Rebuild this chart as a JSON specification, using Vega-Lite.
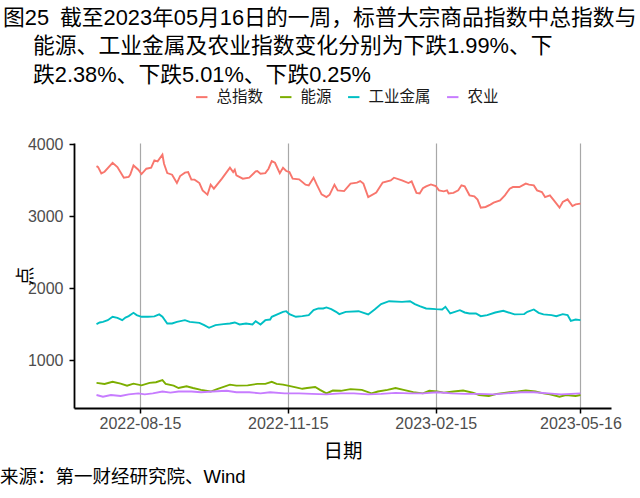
{
"$schema":"https://vega.github.io/schema/vega-lite/v6.json",
"autosize":{"type":"pad"},
"padding":{"left":0,"top":8,"right":0,"bottom":0},
"background":"white",
"title":{"text":"图25\u2002截至2023年05月16日的一周，标普大宗商品指数中总指数与","anchor":"start","frame":"bounds","dx":3,"fontSize":21.8,"font":"Liberation Sans, Noto Sans CJK SC","fontWeight":"normal","color":"#000000","offset":6},
"config":{"view":{"stroke":null},"font":"Liberation Sans, Noto Sans CJK SC"},
"vconcat":[{
"title":{"text":["能源、工业金属及农业指数变化分别为下跌1.99%、下","跌2.38%、下跌5.01%、下跌0.25%"],"anchor":"start","frame":"bounds","dx":33,"fontSize":21.8,"lineHeight":28.5,"font":"Liberation Sans, Noto Sans CJK SC","fontWeight":"normal","color":"#000000","offset":50},
"vconcat":[{
"width":537,"height":265,
"title":{"text":"来源：第一财经研究院、Wind","orient":"bottom","anchor":"start","frame":"group","dx":-74,"fontSize":18.5,"fontWeight":"normal","font":"Liberation Sans, Noto Sans CJK SC","color":"#000000","offset":7},
"data":{"values":[
{"d":"2022-07-19","s":"总指数","v":3699},{"d":"2022-07-20","s":"总指数","v":3685},{"d":"2022-07-22","s":"总指数","v":3597},{"d":"2022-07-24","s":"总指数","v":3620},{"d":"2022-07-29","s":"总指数","v":3745},{"d":"2022-08-01","s":"总指数","v":3685},{"d":"2022-08-05","s":"总指数","v":3537},{"d":"2022-08-08","s":"总指数","v":3547},{"d":"2022-08-09","s":"总指数","v":3580},{"d":"2022-08-11","s":"总指数","v":3708},{"d":"2022-08-14","s":"总指数","v":3648},{"d":"2022-08-16","s":"总指数","v":3588},{"d":"2022-08-19","s":"总指数","v":3662},{"d":"2022-08-22","s":"总指数","v":3676},{"d":"2022-08-24","s":"总指数","v":3778},{"d":"2022-08-26","s":"总指数","v":3764},{"d":"2022-08-29","s":"总指数","v":3857},{"d":"2022-08-30","s":"总指数","v":3732},{"d":"2022-09-01","s":"总指数","v":3601},{"d":"2022-09-04","s":"总指数","v":3579},{"d":"2022-09-07","s":"总指数","v":3463},{"d":"2022-09-09","s":"总指数","v":3560},{"d":"2022-09-12","s":"总指数","v":3607},{"d":"2022-09-14","s":"总指数","v":3615},{"d":"2022-09-16","s":"总指数","v":3510},{"d":"2022-09-18","s":"总指数","v":3510},{"d":"2022-09-21","s":"总指数","v":3463},{"d":"2022-09-23","s":"总指数","v":3361},{"d":"2022-09-26","s":"总指数","v":3301},{"d":"2022-09-28","s":"总指数","v":3440},{"d":"2022-09-30","s":"总指数","v":3385},{"d":"2022-10-05","s":"总指数","v":3524},{"d":"2022-10-10","s":"总指数","v":3676},{"d":"2022-10-12","s":"总指数","v":3615},{"d":"2022-10-13","s":"总指数","v":3648},{"d":"2022-10-14","s":"总指数","v":3569},{"d":"2022-10-18","s":"总指数","v":3524},{"d":"2022-10-22","s":"总指数","v":3537},{"d":"2022-10-26","s":"总指数","v":3625},{"d":"2022-10-27","s":"总指数","v":3630},{"d":"2022-10-29","s":"总指数","v":3593},{"d":"2022-11-01","s":"总指数","v":3601},{"d":"2022-11-03","s":"总指数","v":3662},{"d":"2022-11-05","s":"总指数","v":3768},{"d":"2022-11-07","s":"总指数","v":3745},{"d":"2022-11-10","s":"总指数","v":3601},{"d":"2022-11-12","s":"总指数","v":3676},{"d":"2022-11-14","s":"总指数","v":3630},{"d":"2022-11-16","s":"总指数","v":3615},{"d":"2022-11-18","s":"总指数","v":3524},{"d":"2022-11-22","s":"总指数","v":3514},{"d":"2022-11-26","s":"总指数","v":3440},{"d":"2022-11-28","s":"总指数","v":3430},{"d":"2022-12-01","s":"总指数","v":3537},{"d":"2022-12-03","s":"总指数","v":3440},{"d":"2022-12-06","s":"总指数","v":3306},{"d":"2022-12-09","s":"总指数","v":3268},{"d":"2022-12-11","s":"总指数","v":3301},{"d":"2022-12-14","s":"总指数","v":3440},{"d":"2022-12-16","s":"总指数","v":3361},{"d":"2022-12-20","s":"总指数","v":3351},{"d":"2022-12-24","s":"总指数","v":3455},{"d":"2022-12-28","s":"总指数","v":3469},{"d":"2022-12-30","s":"总指数","v":3490},{"d":"2023-01-01","s":"总指数","v":3455},{"d":"2023-01-04","s":"总指数","v":3268},{"d":"2023-01-09","s":"总指数","v":3330},{"d":"2023-01-13","s":"总指数","v":3469},{"d":"2023-01-18","s":"总指数","v":3500},{"d":"2023-01-20","s":"总指数","v":3537},{"d":"2023-01-25","s":"总指数","v":3500},{"d":"2023-01-29","s":"总指数","v":3463},{"d":"2023-01-31","s":"总指数","v":3486},{"d":"2023-02-03","s":"总指数","v":3326},{"d":"2023-02-05","s":"总指数","v":3317},{"d":"2023-02-07","s":"总指数","v":3390},{"d":"2023-02-09","s":"总指数","v":3417},{"d":"2023-02-12","s":"总指数","v":3444},{"d":"2023-02-15","s":"总指数","v":3421},{"d":"2023-02-17","s":"总指数","v":3361},{"d":"2023-02-20","s":"总指数","v":3347},{"d":"2023-02-22","s":"总指数","v":3361},{"d":"2023-02-23","s":"总指数","v":3317},{"d":"2023-02-26","s":"总指数","v":3326},{"d":"2023-03-01","s":"总指数","v":3361},{"d":"2023-03-03","s":"总指数","v":3431},{"d":"2023-03-05","s":"总指数","v":3417},{"d":"2023-03-08","s":"总指数","v":3292},{"d":"2023-03-11","s":"总指数","v":3278},{"d":"2023-03-13","s":"总指数","v":3232},{"d":"2023-03-15","s":"总指数","v":3121},{"d":"2023-03-18","s":"总指数","v":3130},{"d":"2023-03-21","s":"总指数","v":3162},{"d":"2023-03-23","s":"总指数","v":3190},{"d":"2023-03-27","s":"总指数","v":3222},{"d":"2023-03-30","s":"总指数","v":3292},{"d":"2023-04-02","s":"总指数","v":3385},{"d":"2023-04-04","s":"总指数","v":3407},{"d":"2023-04-08","s":"总指数","v":3407},{"d":"2023-04-12","s":"总指数","v":3455},{"d":"2023-04-14","s":"总指数","v":3440},{"d":"2023-04-17","s":"总指数","v":3430},{"d":"2023-04-19","s":"总指数","v":3361},{"d":"2023-04-22","s":"总指数","v":3338},{"d":"2023-04-24","s":"总指数","v":3268},{"d":"2023-04-27","s":"总指数","v":3292},{"d":"2023-04-29","s":"总指数","v":3236},{"d":"2023-05-03","s":"总指数","v":3121},{"d":"2023-05-05","s":"总指数","v":3199},{"d":"2023-05-08","s":"总指数","v":3236},{"d":"2023-05-11","s":"总指数","v":3143},{"d":"2023-05-13","s":"总指数","v":3167},{"d":"2023-05-16","s":"总指数","v":3176},
{"d":"2022-07-19","s":"工业金属","v":1500},{"d":"2022-07-21","s":"工业金属","v":1523},{"d":"2022-07-23","s":"工业金属","v":1532},{"d":"2022-07-26","s":"工业金属","v":1555},{"d":"2022-07-29","s":"工业金属","v":1602},{"d":"2022-08-01","s":"工业金属","v":1588},{"d":"2022-08-04","s":"工业金属","v":1555},{"d":"2022-08-06","s":"工业金属","v":1592},{"d":"2022-08-08","s":"工业金属","v":1611},{"d":"2022-08-11","s":"工业金属","v":1657},{"d":"2022-08-13","s":"工业金属","v":1625},{"d":"2022-08-16","s":"工业金属","v":1602},{"d":"2022-08-20","s":"工业金属","v":1602},{"d":"2022-08-24","s":"工业金属","v":1607},{"d":"2022-08-27","s":"工业金属","v":1635},{"d":"2022-08-29","s":"工业金属","v":1602},{"d":"2022-09-01","s":"工业金属","v":1509},{"d":"2022-09-04","s":"工业金属","v":1509},{"d":"2022-09-07","s":"工业金属","v":1532},{"d":"2022-09-12","s":"工业金属","v":1555},{"d":"2022-09-15","s":"工业金属","v":1532},{"d":"2022-09-21","s":"工业金属","v":1518},{"d":"2022-09-24","s":"工业金属","v":1486},{"d":"2022-09-27","s":"工业金属","v":1449},{"d":"2022-10-01","s":"工业金属","v":1486},{"d":"2022-10-06","s":"工业金属","v":1500},{"d":"2022-10-10","s":"工业金属","v":1509},{"d":"2022-10-13","s":"工业金属","v":1523},{"d":"2022-10-16","s":"工业金属","v":1495},{"d":"2022-10-20","s":"工业金属","v":1509},{"d":"2022-10-24","s":"工业金属","v":1495},{"d":"2022-10-26","s":"工业金属","v":1541},{"d":"2022-10-29","s":"工业金属","v":1495},{"d":"2022-11-01","s":"工业金属","v":1555},{"d":"2022-11-04","s":"工业金属","v":1564},{"d":"2022-11-05","s":"工业金属","v":1602},{"d":"2022-11-12","s":"工业金属","v":1671},{"d":"2022-11-14","s":"工业金属","v":1680},{"d":"2022-11-16","s":"工业金属","v":1639},{"d":"2022-11-20","s":"工业金属","v":1602},{"d":"2022-11-24","s":"工业金属","v":1611},{"d":"2022-11-28","s":"工业金属","v":1625},{"d":"2022-12-01","s":"工业金属","v":1694},{"d":"2022-12-04","s":"工业金属","v":1718},{"d":"2022-12-07","s":"工业金属","v":1718},{"d":"2022-12-09","s":"工业金属","v":1732},{"d":"2022-12-12","s":"工业金属","v":1708},{"d":"2022-12-15","s":"工业金属","v":1671},{"d":"2022-12-17","s":"工业金属","v":1639},{"d":"2022-12-21","s":"工业金属","v":1671},{"d":"2022-12-29","s":"工业金属","v":1680},{"d":"2023-01-04","s":"工业金属","v":1635},{"d":"2023-01-08","s":"工业金属","v":1704},{"d":"2023-01-12","s":"工业金属","v":1778},{"d":"2023-01-17","s":"工业金属","v":1819},{"d":"2023-01-25","s":"工业金属","v":1810},{"d":"2023-01-30","s":"工业金属","v":1819},{"d":"2023-02-02","s":"工业金属","v":1778},{"d":"2023-02-05","s":"工业金属","v":1750},{"d":"2023-02-09","s":"工业金属","v":1718},{"d":"2023-02-15","s":"工业金属","v":1708},{"d":"2023-02-19","s":"工业金属","v":1704},{"d":"2023-02-21","s":"工业金属","v":1741},{"d":"2023-02-24","s":"工业金属","v":1648},{"d":"2023-03-02","s":"工业金属","v":1694},{"d":"2023-03-05","s":"工业金属","v":1662},{"d":"2023-03-08","s":"工业金属","v":1648},{"d":"2023-03-12","s":"工业金属","v":1648},{"d":"2023-03-15","s":"工业金属","v":1611},{"d":"2023-03-19","s":"工业金属","v":1625},{"d":"2023-03-24","s":"工业金属","v":1662},{"d":"2023-03-29","s":"工业金属","v":1685},{"d":"2023-04-05","s":"工业金属","v":1635},{"d":"2023-04-11","s":"工业金属","v":1639},{"d":"2023-04-13","s":"工业金属","v":1671},{"d":"2023-04-17","s":"工业金属","v":1704},{"d":"2023-04-20","s":"工业金属","v":1657},{"d":"2023-04-23","s":"工业金属","v":1635},{"d":"2023-04-28","s":"工业金属","v":1625},{"d":"2023-05-01","s":"工业金属","v":1611},{"d":"2023-05-05","s":"工业金属","v":1639},{"d":"2023-05-08","s":"工业金属","v":1625},{"d":"2023-05-10","s":"工业金属","v":1546},{"d":"2023-05-13","s":"工业金属","v":1564},{"d":"2023-05-16","s":"工业金属","v":1555},
{"d":"2022-07-19","s":"能源","v":682},{"d":"2022-07-24","s":"能源","v":668},{"d":"2022-07-29","s":"能源","v":697},{"d":"2022-08-03","s":"能源","v":672},{"d":"2022-08-07","s":"能源","v":644},{"d":"2022-08-11","s":"能源","v":672},{"d":"2022-08-16","s":"能源","v":648},{"d":"2022-08-21","s":"能源","v":682},{"d":"2022-08-25","s":"能源","v":692},{"d":"2022-08-29","s":"能源","v":721},{"d":"2022-08-31","s":"能源","v":668},{"d":"2022-09-05","s":"能源","v":644},{"d":"2022-09-08","s":"能源","v":611},{"d":"2022-09-13","s":"能源","v":635},{"d":"2022-09-17","s":"能源","v":611},{"d":"2022-09-22","s":"能源","v":586},{"d":"2022-09-28","s":"能源","v":562},{"d":"2022-10-02","s":"能源","v":596},{"d":"2022-10-10","s":"能源","v":658},{"d":"2022-10-14","s":"能源","v":644},{"d":"2022-10-21","s":"能源","v":648},{"d":"2022-10-27","s":"能源","v":668},{"d":"2022-11-01","s":"能源","v":668},{"d":"2022-11-05","s":"能源","v":697},{"d":"2022-11-08","s":"能源","v":668},{"d":"2022-11-12","s":"能源","v":658},{"d":"2022-11-15","s":"能源","v":644},{"d":"2022-11-20","s":"能源","v":619},{"d":"2022-11-24","s":"能源","v":600},{"d":"2022-11-27","s":"能源","v":611},{"d":"2022-12-02","s":"能源","v":625},{"d":"2022-12-05","s":"能源","v":586},{"d":"2022-12-09","s":"能源","v":537},{"d":"2022-12-13","s":"能源","v":576},{"d":"2022-12-18","s":"能源","v":572},{"d":"2022-12-24","s":"能源","v":596},{"d":"2022-12-31","s":"能源","v":586},{"d":"2023-01-06","s":"能源","v":537},{"d":"2023-01-10","s":"能源","v":562},{"d":"2023-01-16","s":"能源","v":586},{"d":"2023-01-21","s":"能源","v":611},{"d":"2023-01-26","s":"能源","v":586},{"d":"2023-02-01","s":"能源","v":553},{"d":"2023-02-07","s":"能源","v":537},{"d":"2023-02-11","s":"能源","v":572},{"d":"2023-02-16","s":"能源","v":562},{"d":"2023-02-20","s":"能源","v":547},{"d":"2023-02-26","s":"能源","v":562},{"d":"2023-03-04","s":"能源","v":576},{"d":"2023-03-10","s":"能源","v":547},{"d":"2023-03-14","s":"能源","v":514},{"d":"2023-03-20","s":"能源","v":500},{"d":"2023-03-25","s":"能源","v":529},{"d":"2023-04-02","s":"能源","v":553},{"d":"2023-04-07","s":"能源","v":562},{"d":"2023-04-12","s":"能源","v":576},{"d":"2023-04-18","s":"能源","v":562},{"d":"2023-04-23","s":"能源","v":537},{"d":"2023-04-27","s":"能源","v":523},{"d":"2023-05-03","s":"能源","v":490},{"d":"2023-05-07","s":"能源","v":514},{"d":"2023-05-13","s":"能源","v":500},{"d":"2023-05-16","s":"能源","v":514},
{"d":"2022-07-19","s":"农业","v":514},{"d":"2022-07-23","s":"农业","v":490},{"d":"2022-07-28","s":"农业","v":514},{"d":"2022-08-03","s":"农业","v":500},{"d":"2022-08-08","s":"农业","v":523},{"d":"2022-08-14","s":"农业","v":537},{"d":"2022-08-18","s":"农业","v":523},{"d":"2022-08-23","s":"农业","v":537},{"d":"2022-08-29","s":"农业","v":562},{"d":"2022-09-03","s":"农业","v":547},{"d":"2022-09-08","s":"农业","v":562},{"d":"2022-09-16","s":"农业","v":562},{"d":"2022-09-22","s":"农业","v":553},{"d":"2022-09-29","s":"农业","v":562},{"d":"2022-10-08","s":"农业","v":572},{"d":"2022-10-14","s":"农业","v":553},{"d":"2022-10-22","s":"农业","v":553},{"d":"2022-10-29","s":"农业","v":537},{"d":"2022-11-04","s":"农业","v":553},{"d":"2022-11-13","s":"农业","v":537},{"d":"2022-11-22","s":"农业","v":537},{"d":"2022-11-30","s":"农业","v":529},{"d":"2022-12-09","s":"农业","v":523},{"d":"2022-12-18","s":"农业","v":537},{"d":"2022-12-26","s":"农业","v":537},{"d":"2023-01-04","s":"农业","v":523},{"d":"2023-01-12","s":"农业","v":529},{"d":"2023-01-21","s":"农业","v":543},{"d":"2023-01-30","s":"农业","v":537},{"d":"2023-02-07","s":"农业","v":537},{"d":"2023-02-16","s":"农业","v":553},{"d":"2023-02-25","s":"农业","v":537},{"d":"2023-03-05","s":"农业","v":529},{"d":"2023-03-14","s":"农业","v":529},{"d":"2023-03-23","s":"农业","v":523},{"d":"2023-03-31","s":"农业","v":537},{"d":"2023-04-09","s":"农业","v":553},{"d":"2023-04-17","s":"农业","v":553},{"d":"2023-04-26","s":"农业","v":537},{"d":"2023-05-04","s":"农业","v":523},{"d":"2023-05-10","s":"农业","v":529},{"d":"2023-05-16","s":"农业","v":537}
]},
"mark":{"type":"line","strokeWidth":1.9,"interpolate":"linear"},
"encoding":{
"x":{"field":"d","type":"temporal","scale":{"type":"utc","domain":[{"year":2022,"month":7,"date":5,"utc":true},{"year":2023,"month":6,"date":4,"utc":true}],"nice":false},
"axis":{"title":"日期","values":[{"year":2022,"month":8,"date":15,"utc":true},{"year":2022,"month":11,"date":15,"utc":true},{"year":2023,"month":2,"date":15,"utc":true},{"year":2023,"month":5,"date":16,"utc":true}],"format":"%Y-%m-%d","labelFontSize":16,"labelColor":"#4D4D4D","labelPadding":2,"titleFontSize":19.5,"titleFontWeight":"normal","titleColor":"#000000","titlePadding":11,"grid":true,"gridColor":"#A8A8A8","gridWidth":1.2,"domainColor":"#000000","domainWidth":1.8,"tickColor":"#000000","tickWidth":1.5,"tickSize":5,"labelFlush":false}},
"y":{"field":"v","type":"quantitative","scale":{"domain":[333,4020],"nice":false,"zero":false},
"axis":{"title":"点","values":[1000,2000,3000,4000],"format":"d","labelFontSize":16,"labelColor":"#4D4D4D","labelPadding":6,"titleFontSize":19,"titleFontWeight":"normal","titleColor":"#000000","titlePadding":-8,"grid":false,"domainColor":"#000000","domainWidth":1.8,"tickColor":"#000000","tickWidth":1.5,"tickSize":5}},
"color":{"field":"s","type":"nominal","scale":{"domain":["总指数","能源","工业金属","农业"],"range":["#F8766D","#7CAE00","#00BFC4","#C77CFF"]},
"legend":{"orient":"none","legendX":120,"legendY":-54,"direction":"horizontal","title":null,"labelFontSize":15.5,"labelColor":"#1A1A1A","symbolType":"stroke","symbolStrokeWidth":2,"symbolSize":130,"columnPadding":12,"labelOffset":7}}
}
}]
}]
}
